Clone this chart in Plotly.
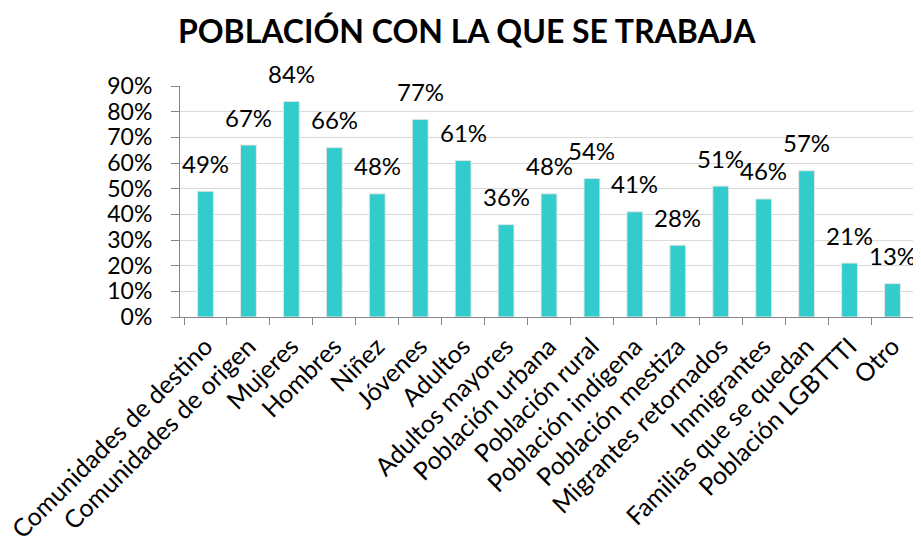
import plotly.graph_objects as go

categories = ["Comunidades de destino", "Comunidades de origen", "Mujeres", "Hombres", "Niñez",
              "Jóvenes", "Adultos", "Adultos mayores", "Población urbana", "Población rural",
              "Población indígena", "Población mestiza", "Migrantes retornados", "Inmigrantes",
              "Familias que se quedan", "Población LGBTTTI", "Otro"]
values = [0.49, 0.67, 0.84, 0.66, 0.48, 0.77, 0.61, 0.36, 0.48, 0.54, 0.41, 0.28, 0.51, 0.46, 0.57, 0.21, 0.13]
labels = ["49%", "67%", "84%", "66%", "48%", "77%", "61%", "36%", "48%", "54%", "41%", "28%", "51%", "46%", "57%", "21%", "13%"]
title_text = "POBLACIÓN CON LA QUE SE TRABAJA"

FONT = "Lato"

fig = go.Figure()
fig.add_trace(go.Bar(
    x=categories, y=values,
    marker=dict(color="#33CCCC", line=dict(color="#E6E6E6", width=1)),
    width=0.37,
    hoverinfo="skip",
))

for c, v, t in zip(categories, values, labels):
    fig.add_annotation(x=c, y=v, text=t, showarrow=False, yshift=28,
                       yanchor="middle", xanchor="center",
                       font=dict(family=FONT, size=24, color="#000000"))

fig.update_layout(
    width=921, height=536,
    margin=dict(l=172, r=11, t=78, b=227, autoexpand=False),
    paper_bgcolor="white", plot_bgcolor="white",
    showlegend=False,
    title=dict(text="<b>" + title_text + "</b>", x=0.498, xanchor="center",
               y=0.955, yanchor="middle",
               font=dict(family=FONT, size=32, color="#000000")),
    font=dict(family=FONT, color="#000000"),
)
fig.update_xaxes(
    type="category", tickangle=-45, tickson="boundaries", automargin=False,
    ticks="outside", ticklen=7, tickcolor="#868686", ticklabelstandoff=4,
    showline=True, linecolor="#868686", linewidth=1,
    showgrid=False,
    tickfont=dict(family=FONT, size=25, color="#000000"),
)
fig.update_yaxes(
    range=[0, 0.9], dtick=0.1, tickformat=".0%", automargin=False,
    ticks="outside", ticklen=8, tickcolor="#868686", ticklabelstandoff=14,
    showline=True, linecolor="#868686", linewidth=1,
    showgrid=True, gridcolor="#D9D9D9", gridwidth=1,
    zeroline=False,
    tickfont=dict(family=FONT, size=23, color="#000000"),
)

fig.write_html("out.html")
